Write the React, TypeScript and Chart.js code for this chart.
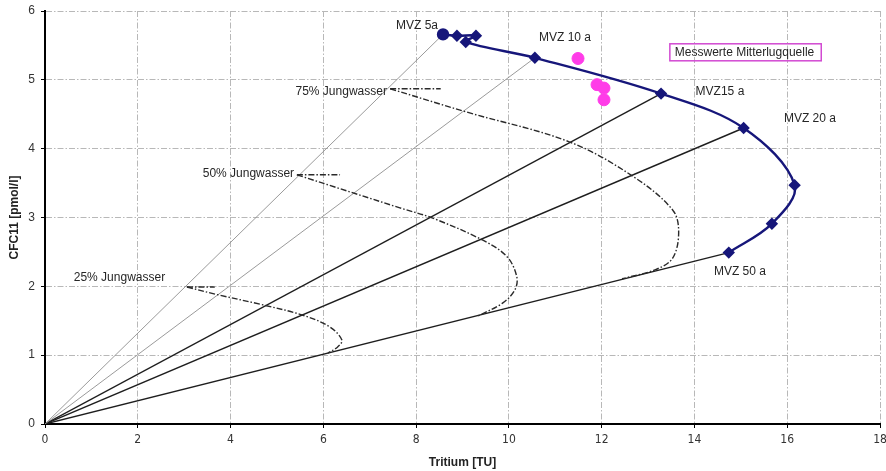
import React, { useEffect, useRef } from "react";
import { Chart, registerables } from "chart.js";

Chart.register(...registerables);

// Tick values
const xTickValues = [0, 2, 4, 6, 8, 10, 12, 14, 16, 18];
const yTickValues = [0, 1, 2, 3, 4, 5, 6];

// MVZ model curve (Tritium [TU], CFC11 [pmol/l])
const mvzX = [8.58, 8.88, 9.29, 9.07, 10.56, 13.28, 15.06, 16.16, 15.67, 14.74];
const mvzY = [5.66, 5.64, 5.64, 5.55, 5.32, 4.8, 4.3, 3.47, 2.91, 2.49];

// Rays from origin to these MVZ point indices (5a, 10a, 15a, 20a, 50a)
const rayTargets = [0, 4, 5, 6, 9];

// Mixing curves (Jungwasser)
const mix75X = [7.44, 9.1, 11.3, 12.67, 13.53, 13.66, 13.53, 13.15, 12.44];
const mix75Y = [4.87, 4.53, 4.1, 3.6, 3.11, 2.79, 2.41, 2.24, 2.11];
const mix50X = [5.43, 7.65, 8.36, 9.44, 9.96, 10.17, 10.13, 9.87, 9.31];
const mix50Y = [3.62, 3.14, 2.99, 2.67, 2.43, 2.14, 1.95, 1.76, 1.56];
const mix25X = [3.06, 3.71, 4.7, 5.56, 6.14, 6.4, 6.31, 6.1];
const mix25Y = [1.99, 1.88, 1.73, 1.58, 1.41, 1.22, 1.12, 1.03];

// Short horizontal segments at the start of each mixing curve
const hseg75X = [7.44, 8.53];
const hseg75Y = [4.87, 4.87];
const hseg50X = [5.43, 6.36];
const hseg50Y = [3.62, 3.62];
const hseg25X = [3.06, 3.66];
const hseg25Y = [1.99, 1.99];

// Measured values Mitterlugquelle
const measX = [11.49, 11.9, 12.05, 12.05];
const measY = [5.31, 4.93, 4.88, 4.71];

// Text annotations
const mvzNames = ["MVZ 5a", "MVZ 10 a", "MVZ15 a", "MVZ 20 a", "MVZ 50 a"];
const mvzLabelX = [8.02, 11.21, 14.55, 16.49, 14.98];
const mvzLabelY = [5.78, 5.61, 4.83, 4.43, 2.22];
const mixNames = ["75% Jungwasser", "50% Jungwasser", "25% Jungwasser"];
const mixLabelX = [7.37, 5.37, 2.59];
const mixLabelY = [4.83, 3.64, 2.12];
const legendText = "Messwerte Mitterlugquelle";
const legendX = 13.47;
const legendY = 5.4;

const pts = (xs: number[], ys: number[]) => xs.map((v, i) => ({ x: v, y: ys[i] }));

const FONT = '"Liberation Sans", Arial, sans-serif';
const NARROW = '"Liberation Sans Narrow", "DejaVu Sans Condensed", "Liberation Sans", sans-serif';
const NAVY = "#16167a";
const DASHDOT = [6, 2, 1.5, 2];

const labelPlugin = {
  id: "textLabels",
  afterDatasetsDraw(chart: any) {
    const { ctx } = chart;
    const xs = chart.scales.x;
    const ys = chart.scales.y;
    ctx.save();
    ctx.font = `12px ${FONT}`;
    ctx.fillStyle = "#262626";
    ctx.textBaseline = "middle";
    ctx.textAlign = "center";
    mvzNames.forEach((t, i) => {
      ctx.fillText(t, xs.getPixelForValue(mvzLabelX[i]), ys.getPixelForValue(mvzLabelY[i]));
    });
    ctx.textAlign = "right";
    mixNames.forEach((t, i) => {
      ctx.fillText(t, xs.getPixelForValue(mixLabelX[i]), ys.getPixelForValue(mixLabelY[i]));
    });
    const lx = xs.getPixelForValue(legendX);
    const ly = ys.getPixelForValue(legendY);
    ctx.textAlign = "left";
    const w = ctx.measureText(legendText).width;
    ctx.strokeStyle = "#d24ad2";
    ctx.lineWidth = 1.5;
    ctx.strokeRect(lx, ly - 8.5, w + 12, 17);
    ctx.fillText(legendText, lx + 5, ly + 0.5);
    ctx.restore();
  },
};

export default function App() {
  const ref = useRef<HTMLCanvasElement | null>(null);

  useEffect(() => {
    document.body.style.margin = "0";
    const canvas = ref.current;
    if (!canvas) return;

    const rayDatasets = rayTargets.map((idx, k) => ({
      data: [
        { x: 0, y: 0 },
        { x: mvzX[idx], y: mvzY[idx] },
      ],
      showLine: true,
      borderColor: k < 2 ? "#8f8f8f" : "#1e1e1e",
      borderWidth: k < 2 ? 0.9 : 1.4,
      pointRadius: 0,
      tension: 0,
    }));

    const dashed = (xs: number[], ys: number[], tension: number) => ({
      data: pts(xs, ys),
      showLine: true,
      borderColor: "#2a2a2a",
      borderWidth: 1.4,
      borderDash: DASHDOT,
      pointRadius: 0,
      tension,
    });

    const chart = new Chart(canvas, {
      type: "scatter",
      data: {
        datasets: [
          {
            data: pts(measX, measY),
            backgroundColor: "#ff3ce8",
            borderColor: "#ff3ce8",
            pointRadius: 6,
            pointStyle: "circle",
          },
          {
            data: pts(mvzX, mvzY),
            showLine: true,
            borderColor: NAVY,
            backgroundColor: NAVY,
            borderWidth: 2.4,
            tension: 0.35,
            pointStyle: mvzX.map((_, i) => (i === 0 ? "circle" : "rectRot")),
            pointRadius: mvzX.map((_, i) => (i === 0 ? 5 : 4.5)),
          },
          dashed(mix75X, mix75Y, 0.35),
          dashed(mix50X, mix50Y, 0.35),
          dashed(mix25X, mix25Y, 0.35),
          dashed(hseg75X, hseg75Y, 0),
          dashed(hseg50X, hseg50Y, 0),
          dashed(hseg25X, hseg25Y, 0),
          ...rayDatasets,
        ] as any,
      },
      options: {
        animation: false,
        responsive: false,
        layout: { autoPadding: false, padding: { top: 11, right: 6, left: 0, bottom: 0 } },
        plugins: {
          legend: { display: false },
          tooltip: { enabled: false },
        },
        scales: {
          x: {
            type: "linear",
            min: 0,
            max: 18,
            afterBuildTicks: (s: any) => {
              s.ticks = xTickValues.map((v) => ({ value: v }));
            },
            afterFit: (s: any) => {
              s.height = 47;
              s.paddingLeft = 0;
              s.paddingRight = 0;
            },
            ticks: {
              font: { family: NARROW, size: 12 },
              color: "#333",
              padding: 5,
              maxRotation: 0,
            },
            grid: {
              color: "#b8b8b8",
              lineWidth: 1,
              tickLength: 4,
              tickColor: "#000",
              tickBorderDash: [],
            },
            border: { color: "#000", width: 2, dash: DASHDOT },
            title: {
              display: true,
              text: "Tritium [TU]",
              font: { family: FONT, size: 12, weight: "bold" },
              color: "#222",
              padding: { top: 0, bottom: 1 },
            },
          },
          y: {
            type: "linear",
            min: 0,
            max: 6,
            afterBuildTicks: (s: any) => {
              s.ticks = yTickValues.map((v) => ({ value: v }));
            },
            afterFit: (s: any) => {
              s.width = 45;
              s.paddingTop = 0;
              s.paddingBottom = 0;
            },
            ticks: {
              font: { family: FONT, size: 12 },
              color: "#333",
              padding: 6,
            },
            grid: {
              color: "#b8b8b8",
              lineWidth: 1,
              tickLength: 4,
              tickColor: "#000",
              tickBorderDash: [],
            },
            border: { color: "#000", width: 2, dash: DASHDOT },
            title: {
              display: true,
              text: "CFC11 [pmol/l]",
              font: { family: FONT, size: 12, weight: "bold" },
              color: "#222",
              padding: { top: 7, bottom: 0 },
            },
          },
        },
      } as any,
      plugins: [labelPlugin],
    });

    return () => chart.destroy();
  }, []);

  return (
    <div style={{ width: 886, height: 471 }}>
      <canvas ref={ref} width={886} height={471} />
    </div>
  );
}
